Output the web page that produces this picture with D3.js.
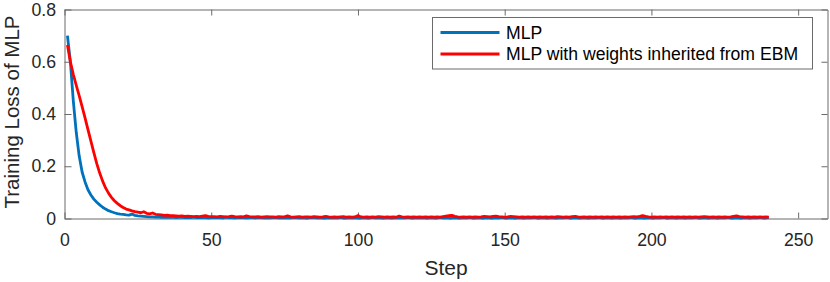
<!DOCTYPE html>
<html>
<head>
<meta charset="utf-8">
<script src="https://cdn.jsdelivr.net/npm/d3@7"></script>
<style>
  html, body { margin: 0; padding: 0; background: #fff; }
  svg { display: block; font-family: "Liberation Sans", Arial, Helvetica, sans-serif; }
</style>
</head>
<body>
<svg id="chart" width="830" height="282"></svg>
<script>
// ---------- data ----------
const mlpLoss = [
  0.700,0.600,0.450,0.330,0.240,0.178,0.140,0.110,0.090,0.074,
  0.062,0.052,0.043,0.036,0.030,0.026,0.022,0.019,0.017,0.016,
  0.014,0.013,0.017,0.012,0.010,0.009,0.008,0.007,0.006,0.006,
  0.005,0.006,0.004,0.005,0.004,0.004,0.005,0.003,0.004,0.004,
  0.003,0.004,0.003,0.005,0.003,0.003,0.004,0.003,0.002,0.003,
  0.004,0.003,0.003,0.002,0.005,0.003,0.003,0.002,0.003,0.004,
  0.003,0.002,0.003,0.003,0.002,0.004,0.003,0.002,0.003,0.002,
  0.003,0.004,0.002,0.003,0.002,0.003,0.002,0.004,0.003,0.002,
  0.003,0.002,0.002,0.003,0.004,0.002,0.003,0.002,0.002,0.003,
  0.002,0.003,0.002,0.004,0.002,0.002,0.003,0.002,0.003,0.002,
  0.002,0.003,0.002,0.002,0.004,0.002,0.003,0.002,0.002,0.003,
  0.002,0.002,0.003,0.002,0.003,0.002,0.004,0.002,0.002,0.003,
  0.002,0.003,0.002,0.002,0.003,0.002,0.002,0.004,0.002,0.003,
  0.002,0.002,0.003,0.002,0.002,0.003,0.002,0.004,0.002,0.002,
  0.003,0.002,0.002,0.003,0.002,0.002,0.003,0.002,0.004,0.002,
  0.002,0.003,0.002,0.002,0.003,0.002,0.002,0.003,0.002,0.004,
  0.002,0.002,0.003,0.002,0.002,0.003,0.002,0.002,0.003,0.002,
  0.004,0.002,0.002,0.003,0.002,0.002,0.003,0.002,0.002,0.003,
  0.002,0.004,0.002,0.002,0.003,0.002,0.002,0.003,0.002,0.002,
  0.003,0.002,0.004,0.002,0.002,0.003,0.002,0.002,0.003,0.002,
  0.002,0.003,0.002,0.004,0.002,0.002,0.003,0.002,0.002,0.003,
  0.002,0.002,0.003,0.002,0.004,0.002,0.002,0.003,0.002,0.002,
  0.003,0.002,0.002,0.003,0.002,0.004,0.002,0.002,0.003,0.002,
  0.002,0.003,0.002,0.002,0.003,0.002,0.004,0.002,0.002,0.003
];
const ebmLoss = [
  0.664,0.600,0.552,0.510,0.470,0.428,0.385,0.340,0.296,0.252,
  0.210,0.174,0.143,0.117,0.097,0.081,0.068,0.058,0.049,0.042,
  0.036,0.033,0.029,0.026,0.024,0.022,0.026,0.020,0.018,0.021,
  0.016,0.015,0.014,0.012,0.013,0.011,0.011,0.010,0.009,0.010,
  0.008,0.009,0.008,0.007,0.008,0.007,0.009,0.011,0.008,0.007,
  0.007,0.006,0.008,0.007,0.006,0.007,0.009,0.007,0.006,0.007,
  0.006,0.010,0.007,0.006,0.006,0.007,0.005,0.006,0.007,0.006,
  0.006,0.005,0.007,0.006,0.006,0.010,0.006,0.005,0.006,0.007,
  0.005,0.006,0.006,0.005,0.007,0.006,0.005,0.006,0.008,0.006,
  0.005,0.006,0.005,0.006,0.007,0.005,0.006,0.005,0.006,0.011,
  0.006,0.005,0.006,0.005,0.006,0.005,0.007,0.006,0.005,0.006,
  0.005,0.006,0.005,0.009,0.006,0.005,0.006,0.005,0.006,0.005,
  0.006,0.005,0.006,0.005,0.006,0.005,0.006,0.005,0.007,0.009,
  0.011,0.012,0.008,0.006,0.005,0.006,0.005,0.006,0.005,0.006,
  0.005,0.006,0.008,0.007,0.006,0.008,0.009,0.007,0.006,0.005,
  0.006,0.008,0.007,0.006,0.005,0.006,0.005,0.006,0.005,0.006,
  0.005,0.006,0.005,0.006,0.005,0.006,0.005,0.007,0.006,0.005,
  0.006,0.005,0.007,0.008,0.006,0.005,0.006,0.005,0.006,0.005,
  0.006,0.005,0.006,0.005,0.006,0.005,0.006,0.005,0.006,0.005,
  0.006,0.005,0.006,0.007,0.006,0.008,0.011,0.008,0.006,0.005,
  0.006,0.005,0.006,0.005,0.006,0.005,0.006,0.005,0.006,0.005,
  0.006,0.005,0.006,0.005,0.006,0.005,0.006,0.007,0.006,0.005,
  0.006,0.005,0.006,0.005,0.006,0.005,0.006,0.008,0.010,0.007,
  0.006,0.005,0.006,0.005,0.006,0.005,0.006,0.005,0.006,0.005
];
const seriesNames = ["MLP", "MLP with weights inherited from EBM"];
const seriesColors = ["#0072BD", "#FF0000"];
const xTicks = [0, 50, 100, 150, 200, 250];
const yTicks = [0, 0.2, 0.4, 0.6, 0.8];
const xDomain = [0, 260];
const yDomain = [0, 0.8];

// ---------- layout ----------
const svg = d3.select("#chart");
const pLeft = 64.5, pRight = 827.5, pTop = 9.5, pBottom = 218.5;
const axisColor = "#6b6b6b", textColor = "#262626";

const x = d3.scaleLinear().domain(xDomain).range([pLeft, pRight]);
const y = d3.scaleLinear().domain(yDomain).range([pBottom, pTop]);

const fmtY = d => d === 0 ? "0" : d3.format(".1f")(d);

function styleAxis(g) {
  g.select(".domain").attr("stroke", axisColor).attr("stroke-width", 1);
  g.selectAll(".tick line").attr("stroke", axisColor).attr("stroke-width", 1);
  g.selectAll(".tick text").attr("fill", textColor).attr("font-size", 17.7)
    .attr("font-family", "Liberation Sans, Arial, Helvetica, sans-serif");
}

// bottom axis
svg.append("g").attr("transform", `translate(0,${pBottom})`)
  .call(d3.axisBottom(x).tickValues(xTicks).tickSizeInner(-6).tickSizeOuter(0).tickPadding(14.5).tickFormat(d3.format("d")))
  .call(styleAxis);
// top axis
svg.append("g").attr("transform", `translate(0,${pTop})`)
  .call(d3.axisTop(x).tickValues(xTicks).tickSizeInner(-6).tickSizeOuter(0).tickFormat(""))
  .call(styleAxis);
// left axis
svg.append("g").attr("transform", `translate(${pLeft},0)`)
  .call(d3.axisLeft(y).tickValues(yTicks).tickSizeInner(-7).tickSizeOuter(0).tickPadding(8.5).tickFormat(fmtY))
  .call(styleAxis);
// right axis
svg.append("g").attr("transform", `translate(${pRight},0)`)
  .call(d3.axisRight(y).tickValues(yTicks).tickSizeInner(-6).tickSizeOuter(0).tickFormat(""))
  .call(styleAxis);

// lines
const line = d3.line().x((d, i) => x(i + 1)).y(d => y(d));
[mlpLoss, ebmLoss].forEach((s, k) => {
  svg.append("path").datum(s)
    .attr("fill", "none")
    .attr("stroke", seriesColors[k])
    .attr("stroke-width", 2.8)
    .attr("stroke-linejoin", "round")
    .attr("d", line);
});

// axis labels
svg.append("text")
  .attr("x", (pLeft + pRight) / 2).attr("y", 275)
  .attr("text-anchor", "middle").attr("fill", textColor).attr("font-size", 21)
  .text("Step");
svg.append("text")
  .attr("transform", `translate(18.5,${(pTop + pBottom) / 2 - 2}) rotate(-90)`)
  .attr("text-anchor", "middle").attr("fill", textColor).attr("font-size", 20.5)
  .text("Training Loss of MLP");

// legend
const lg = svg.append("g");
lg.append("rect").attr("x", 432.5).attr("y", 17.5).attr("width", 380).attr("height", 51.5)
  .attr("fill", "#fff").attr("stroke", axisColor).attr("stroke-width", 1);
const rowsY = [32.5, 54];
seriesNames.forEach((name, k) => {
  lg.append("line").attr("x1", 440.5).attr("x2", 499.5).attr("y1", rowsY[k]).attr("y2", rowsY[k])
    .attr("stroke", seriesColors[k]).attr("stroke-width", 2.8);
  lg.append("text").attr("x", 506).attr("y", rowsY[k]).attr("dy", "0.35em")
    .attr("fill", "#000").attr("font-size", 17.6).text(name);
});
</script>
</body>
</html>
